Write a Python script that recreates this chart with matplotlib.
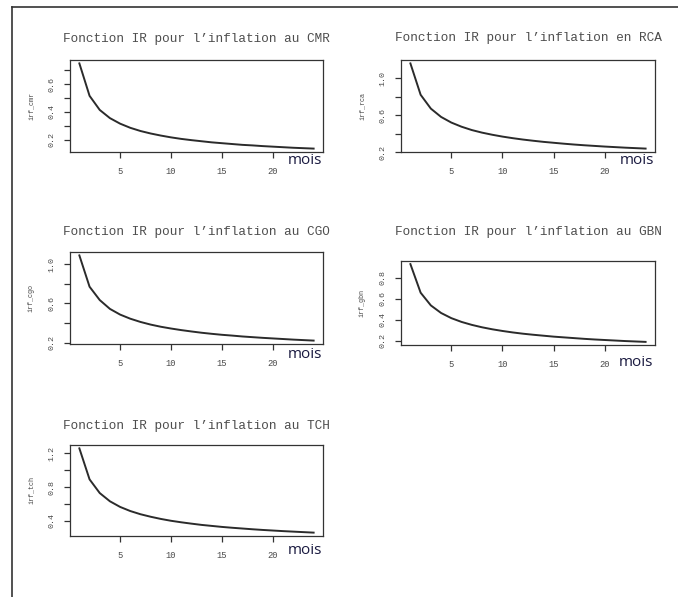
import matplotlib
matplotlib.use('Agg')
import matplotlib.pyplot as plt
from matplotlib.lines import Line2D

# impulse responses of inflation, 24 months
mois = list(range(1, 25))

irf_cmr = [0.750, 0.516, 0.414, 0.355, 0.315, 0.285, 0.262, 0.244, 0.229, 0.216, 0.205, 0.196,
           0.188, 0.180, 0.174, 0.168, 0.162, 0.158, 0.153, 0.149, 0.145, 0.141, 0.138, 0.135]
irf_rca = [1.160, 0.820, 0.670, 0.580, 0.519, 0.474, 0.438, 0.410, 0.387, 0.367, 0.350, 0.335,
           0.322, 0.310, 0.300, 0.290, 0.281, 0.273, 0.266, 0.259, 0.253, 0.247, 0.242, 0.237]
irf_cgo = [1.090, 0.771, 0.635, 0.545, 0.487, 0.445, 0.412, 0.385, 0.363, 0.345, 0.329, 0.315,
           0.302, 0.291, 0.281, 0.273, 0.264, 0.257, 0.250, 0.244, 0.238, 0.232, 0.227, 0.222]
irf_gbn = [0.930, 0.658, 0.537, 0.465, 0.416, 0.380, 0.352, 0.329, 0.310, 0.294, 0.280, 0.268,
           0.258, 0.249, 0.240, 0.233, 0.226, 0.219, 0.213, 0.208, 0.203, 0.198, 0.194, 0.190]
irf_tch = [1.260, 0.891, 0.728, 0.630, 0.563, 0.514, 0.476, 0.446, 0.420, 0.398, 0.380, 0.364,
           0.349, 0.337, 0.325, 0.315, 0.306, 0.297, 0.289, 0.282, 0.275, 0.269, 0.263, 0.257]

titles = ["Fonction IR pour l\u2019inflation au CMR",
          "Fonction IR pour l\u2019inflation en RCA",
          "Fonction IR pour l\u2019inflation au CGO",
          "Fonction IR pour l\u2019inflation au GBN",
          "Fonction IR pour l\u2019inflation au TCH"]
ylabels = ["irf_cmr", "irf_rca", "irf_cgo", "irf_gbn", "irf_tch"]
series = [irf_cmr, irf_rca, irf_cgo, irf_gbn, irf_tch]

# y ticks and which of them get a label (R drops overlapping ones)
yticks = [[0.2, 0.3, 0.4, 0.5, 0.6, 0.7],
          [0.2, 0.4, 0.6, 0.8, 1.0],
          [0.2, 0.4, 0.6, 0.8, 1.0],
          [0.2, 0.4, 0.6, 0.8],
          [0.4, 0.6, 0.8, 1.0, 1.2]]
ylabeled = [[0.2, 0.4, 0.6], [0.2, 0.6, 1.0], [0.2, 0.6, 1.0],
            [0.2, 0.4, 0.6, 0.8], [0.4, 0.8, 1.2]]
xticks = [5, 10, 15, 20]

W, H = 678, 597
# panel boxes in pixels: left, right, top, bottom
boxes = [(70, 323, 60, 152),
         (401, 655, 60, 152),
         (70, 323, 252, 344),
         (401, 655, 261, 345),
         (70, 323, 445, 536)]
title_y = [39, 38, 232, 232, 426]
mois_xy = [(305, 160), (637, 160), (305, 355), (636, 362), (305, 550)]

mono = 'Liberation Mono'
grey = '#4a4a4a'

fig = plt.figure(figsize=(W / 100, H / 100), dpi=100)
fig.patch.set_facecolor('white')

# outer frame (top and left)
fig.add_artist(Line2D([12 / W, 12 / W], [0, 1 - 7 / H], transform=fig.transFigure,
                      color='#333333', lw=1.2))
fig.add_artist(Line2D([12 / W, 1], [1 - 7 / H, 1 - 7 / H], transform=fig.transFigure,
                      color='#333333', lw=1.2))

for i, y in enumerate(series):
    l, r, t, b = boxes[i]
    ax = fig.add_axes([l / W, 1 - b / H, (r - l) / W, (b - t) / H])
    ax.plot(mois, y, color='#2b2b2b', lw=1.4)

    lo, hi = min(y), max(y)
    pad = 0.04 * (hi - lo)
    ax.set_ylim(lo - pad, hi + pad)
    ax.set_xlim(1 - 0.04 * 23, 24 + 0.04 * 23)

    ax.set_xticks(xticks)
    ax.set_xticklabels([str(v) for v in xticks], family=mono, fontsize=6.3, color=grey)
    ax.set_yticks(yticks[i])
    ax.set_yticklabels(['%.1f' % v if v in ylabeled[i] else '' for v in yticks[i]],
                       family=mono, fontsize=6, color=grey, rotation=90, va='center')
    ax.tick_params(axis='both', length=4.5, width=0.9, color='#333333', pad=6)

    for s in ax.spines.values():
        s.set_color('#333333')
        s.set_linewidth(0.9)

    ax.set_ylabel(ylabels[i], family=mono, fontsize=4.9, color=grey, labelpad=10)

    fig.text((l + r) / 2 / W, 1 - title_y[i] / H, titles[i], family=mono,
             fontsize=9.2, color='#4d4d4d', ha='center', va='center')

    mx, my = mois_xy[i]
    fig.text(mx / W, 1 - my / H, 'mois', family='Open Sans', fontsize=11,
             color='#1a1a40', ha='center', va='center')

fig.savefig('out.png', dpi=100)
